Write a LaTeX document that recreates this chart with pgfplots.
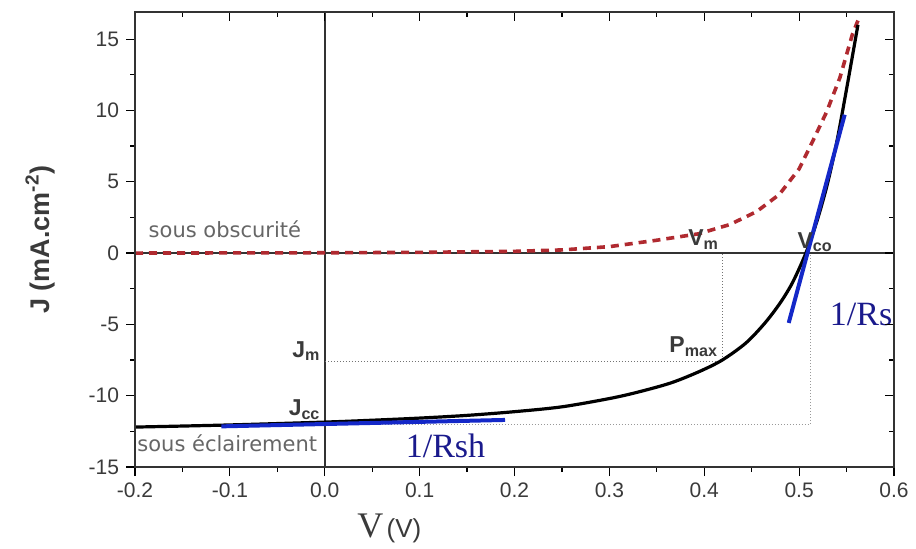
\documentclass[border=0pt]{standalone}
\usepackage{pgfplots}
\pgfplotsset{compat=1.18}
\usepackage{fontspec}
\setmainfont{Liberation Sans}
\newfontfamily\serifbl{Liberation Serif}
\newfontfamily\dejavu{DejaVu Sans}
\usetikzlibrary{calc}
\definecolor{darkred}{HTML}{B02A30}
\definecolor{myblue}{HTML}{1428C8}
\definecolor{navy}{HTML}{1A1A8C}
\definecolor{txtgray}{HTML}{3A3A3A}
\begin{document}
\begin{tikzpicture}
\pgfplotsset{
  common/.style={
    width=379.5pt, height=227.5pt, scale only axis,
    xmin=-0.2, xmax=0.6, ymin=-15, ymax=16.9,
    xtick={-0.2,-0.1,...,0.61}, ytick={-15,-10,...,15},
    minor x tick num=1, minor y tick num=1,
    major tick length=4.5pt, minor tick length=2.5pt,
    every tick/.style={black, line width=0.6pt},
    axis line style={line width=0.7pt, black!80},
  }
}
\begin{axis}[common,
  name=main,
  xtick pos=left, ytick pos=left, tick align=outside,
  clip=false,
  /pgf/number format/assume math mode=true,
  xticklabel style={/pgf/number format/.cd, fixed, fixed zerofill, precision=1},
  yticklabel style={/pgf/number format/.cd, fixed},
  ticklabel style={font=\fontsize{10.5}{12}\selectfont, text=txtgray},
  xlabel={{\serifbl\fontsize{18}{19}\selectfont V}\,{\fontsize{13}{14}\selectfont(V)}},
  xlabel style={at={(axis description cs:0.335,-0.135)}, anchor=center, text=txtgray},
  ylabel={\bfseries J (mA.cm\textsuperscript{-2})},
  ylabel style={at={(axis description cs:-0.125,0.5)}, anchor=center, rotate=0, font=\fontsize{13.5}{15}\selectfont, text=txtgray},
]
% reference lines through origin
\addplot[black!80, line width=0.8pt] coordinates {(-0.2,0) (0.6,0)};
\addplot[black!80, line width=0.8pt] coordinates {(0,-15) (0,16.9)};
% dotted construction lines
\addplot[black!55, densely dotted, line width=0.5pt] coordinates {(0,-7.6) (0.419,-7.6) (0.419,0)};
\addplot[black!40, densely dotted, line width=0.5pt] coordinates {(0,-12.0) (0.512,-12.0) (0.512,0)};
% dark curve
\addplot[darkred, line width=1.8pt, dash pattern=on 4pt off 3pt] coordinates {
(-0.2,0) (0,0.02) (0.1,0.05) (0.2,0.12) (0.25,0.22) (0.3,0.45) (0.35,0.9)
(0.394,1.35) (0.427,2.0) (0.455,2.9) (0.479,4.1) (0.5,5.9) (0.514,7.8)
(0.529,9.9) (0.543,12.3) (0.556,15.3) (0.562,16.3)};
% illuminated curve
\addplot[black, line width=1.6pt, smooth] coordinates {
(-0.2,-12.2) (-0.1,-12.05) (0,-11.85) (0.05,-11.72) (0.1,-11.57) (0.15,-11.38)
(0.2,-11.12) (0.25,-10.78) (0.3,-10.2) (0.33,-9.75) (0.365,-9.1) (0.395,-8.3)
(0.419,-7.5) (0.444,-6.3) (0.464,-4.9) (0.48,-3.5) (0.492,-2.2) (0.502,-0.8)
(0.51,0.5) (0.52,2.5) (0.53,4.9) (0.54,7.9) (0.55,11.5) (0.562,16.0)};
% tangents
\addplot[myblue, line width=2pt] coordinates {(-0.109,-12.15) (0.19,-11.7)};
\addplot[myblue, line width=2pt] coordinates {(0.489,-4.9) (0.548,9.7)};
% annotations
\node[anchor=west, text=black!60, font=\dejavu\fontsize{10.5}{12}\selectfont] at (axis cs:-0.193,1.7) {sous obscurité};
\node[anchor=west, text=black!60, font=\dejavu\fontsize{10.5}{12}\selectfont, inner sep=1pt] at (axis cs:-0.2,-13.3) {sous éclairement};
\begin{scope}[every node/.style={font=\fontsize{11.5}{13}\selectfont\bfseries, text=txtgray, inner sep=1pt}]
\node[anchor=base east] at (axis cs:-0.002,-7.3) {J\textsubscript{m}};
\node[anchor=base east] at (axis cs:-0.002,-11.4) {J\textsubscript{cc}};
\node[anchor=base east] at (axis cs:0.417,-7.0) {P\textsubscript{max}};
\node[anchor=base east] at (axis cs:0.418,0.5) {V\textsubscript{m}};
\node[anchor=base east] at (axis cs:0.538,0.35) {V\textsubscript{co}};
\end{scope}
\node[anchor=west, inner sep=0pt, text=navy, font=\serifbl\fontsize{17}{18}\selectfont] at (axis cs:0.532,-4.3) {1/Rs};
\node[anchor=west, inner sep=0pt, text=navy, font=\serifbl\fontsize{17}{18}\selectfont] at (axis cs:0.085,-13.5) {1/Rsh};
\end{axis}
\begin{axis}[common,
  xtick pos=right, ytick pos=right, tick align=inside,
  xticklabels={}, yticklabels={},
]
\end{axis}
\pgfresetboundingbox
\path ($(main.south west)+(-67.5pt,-40.5pt)$) rectangle ($(main.north east)+(11pt,6pt)$);
\end{tikzpicture}
\end{document}
